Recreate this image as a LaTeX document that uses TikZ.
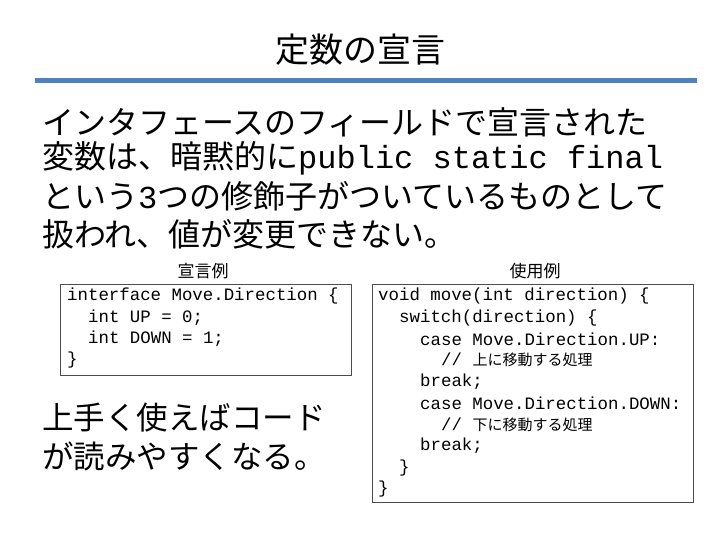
\documentclass[tikz,border=0pt]{standalone}
\usepackage{fontspec}
\setmainfont{Noto Sans CJK JP}
\newfontfamily\cjk{Noto Sans CJK JP}
\setmonofont{Liberation Mono}
\begin{document}
\begin{tikzpicture}[x=1pt,y=-1pt,
  body/.style={anchor=west,inner sep=0pt,font=\fontsize{32}{32}\selectfont},
  code/.style={anchor=west,inner sep=0pt,font=\fontsize{17.4}{17.4}\selectfont\ttfamily},
  lab/.style={inner sep=0pt,font=\fontsize{17}{17}\selectfont},
  frame/.style={draw=black!70,line width=0.8pt}]
\useasboundingbox (0,0) rectangle (720,540);
\node[inner sep=0pt,font=\fontsize{34}{34}\selectfont] (title) at (360,50) {定数の宣言};
\draw[line width=5pt,draw={rgb,255:red,79;green,129;blue,189}] (35,81) -- (697,81);
\node[body] (l1) at (42,122) {インタフェースのフィールドで宣言された};
\node[body] (l2) at (42,158) {変数は、暗黙的に\texttt{public static final}};
\node[body] (l3) at (42,196) {という\texttt{3}つの修飾子がついているものとして};
\node[body] (l4) at (42,234) {扱われ、値が変更できない。};
% left box
\node[lab] (la) at (203,271) {宣言例};
\draw[frame] (60,284) rectangle (351,375);
\node[code] (c1) at (67,296) {interface Move.Direction \{};
\node[code] (c2) at (88,318) {int UP = 0;};
\node[code] (c3) at (88,339) {int DOWN = 1;};
\node[code] (c4) at (67,360) {\}};
\node[body,font=\fontsize{31.5}{31.5}\selectfont] (t1) at (42,418) {上手く使えばコード};
\node[body,font=\fontsize{31.5}{31.5}\selectfont] (t2) at (42,456) {が読みやすくなる。};
% right box
\node[lab] (ra) at (535,271) {使用例};
\draw[frame] (372,284) rectangle (693,502);
\node[code] (d1) at (378,296) {void move(int direction) \{};
\node[code] (d2) at (399,318) {switch(direction) \{};
\node[code] (d3) at (420,339) {case Move.Direction.UP:};
\node[code] (d4) at (441,360) {// \cjk\fontsize{15}{15}\selectfont 上に移動する処理};
\node[code] (d5) at (420,382) {break;};
\node[code] (d6) at (420,403) {case Move.Direction.DOWN:};
\node[code] (d7) at (441,425) {// \cjk\fontsize{15}{15}\selectfont 下に移動する処理};
\node[code] (d8) at (420,446) {break;};
\node[code] (d9) at (399,468) {\}};
\node[code] (d10) at (378,489) {\}};
\end{tikzpicture}
\end{document}
